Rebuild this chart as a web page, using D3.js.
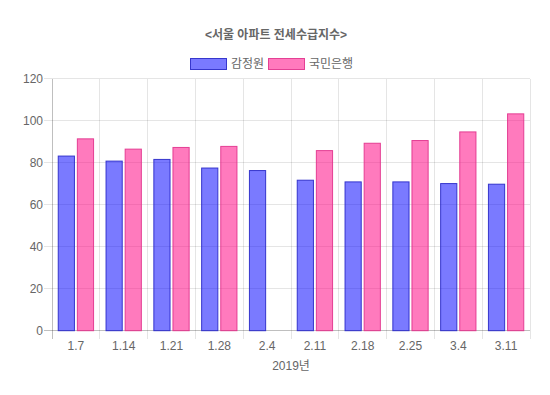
<!DOCTYPE html>
<html><head><meta charset="utf-8">
<script src="https://cdn.jsdelivr.net/npm/d3@7"></script>
<style>body{margin:0;background:#fff}svg{display:block}</style>
</head><body>
<script>
const categories = ["1.7","1.14","1.21","1.28","2.4","2.11","2.18","2.25","3.4","3.11"];
const seriesNames = ["감정원","국민은행"];
const kab = [83.4, 81.0, 81.8, 77.7, 76.5, 71.9, 71.1, 71.1, 70.3, 70.0];
const kb  = [91.6, 86.7, 87.5, 88.0, null, 86.0, 89.5, 90.8, 94.9, 103.5];
const yTicks = [0,20,40,60,80,100,120];
const titleText = "<서울 아파트 전세수급지수>";
const xTitle = "2019년";

const W=550,H=395;
const fills=["rgba(0,0,255,0.52)","rgba(255,0,128,0.52)"];
const strokes=["rgba(40,40,200,0.9)","rgba(225,50,140,0.9)"];
const font='"Liberation Sans", Arial, "Noto Sans CJK KR", sans-serif';
const textColor="#666";

const svg=d3.select("body").append("svg").attr("width",W).attr("height",H);
const L=52,R=530,T=78.7,B=330.7;
const x=d3.scaleBand().domain(categories).range([L,R]).paddingInner(0).paddingOuter(0);
const y=d3.scaleLinear().domain([0,120]).range([B,T]);
const x1=d3.scaleBand().domain([0,1]).range([0,x.bandwidth()*0.8]);

// grid
const g=svg.append("g");
yTicks.forEach(t=>{
  g.append("line").attr("x1",L-8).attr("x2",R).attr("y1",y(t)).attr("y2",y(t))
   .attr("stroke",t===0?"rgba(0,0,0,0.25)":"rgba(0,0,0,0.1)").attr("stroke-width",1).attr("shape-rendering","crispEdges");
});
const xLines=categories.map(c=>x(c)).concat([R]);
xLines.forEach((xx,i)=>{
  g.append("line").attr("x1",xx).attr("x2",xx).attr("y1",T).attr("y2",B+8)
   .attr("stroke",i===0?"rgba(0,0,0,0.25)":"rgba(0,0,0,0.1)").attr("shape-rendering","crispEdges");
});

// y labels via axis
const yAxis=svg.append("g").attr("transform",`translate(${L-9},0)`)
  .call(d3.axisLeft(y).tickValues(yTicks).tickSize(0).tickPadding(0));
yAxis.select(".domain").remove();
yAxis.selectAll("text").attr("fill",textColor).style("font-family",font).style("font-size","12px");

const xAxis=svg.append("g").attr("transform",`translate(0,${B+9})`)
  .call(d3.axisBottom(x).tickSize(0).tickPadding(0));
xAxis.select(".domain").remove();
xAxis.selectAll("text").attr("fill",textColor).style("font-family",font).style("font-size","12px").attr("dy","0.71em").attr("y",2);

// bars
const data=[kab,kb];
data.forEach((vals,si)=>{
  svg.append("g").selectAll("rect").data(categories.map((c,i)=>({c,v:vals[i]})).filter(d=>d.v!=null))
   .join("rect")
   .attr("x",d=>x(d.c)+x.bandwidth()*0.1+x1(si)+x1.bandwidth()*0.05+0.5)
   .attr("width",x1.bandwidth()*0.9-1)
   .attr("y",d=>y(d.v)+0.5)
   .attr("height",d=>B-y(d.v)-0.5)
   .attr("fill",fills[si]).attr("stroke",strokes[si]).attr("stroke-width",1);
});

// title
svg.append("text").attr("x",276).attr("y",39).attr("text-anchor","middle")
  .attr("fill",textColor).style("font-family",font).style("font-size","12px").style("font-weight","bold").text(titleText);

// x title
svg.append("text").attr("x",(L+R)/2).attr("y",370).attr("text-anchor","middle")
  .attr("fill",textColor).style("font-family",font).style("font-size","12px").text(xTitle);

// legend
const legX=[190,268];
seriesNames.forEach((n,i)=>{
  svg.append("rect").attr("x",legX[i]+0.5).attr("y",58.5).attr("width",36).attr("height",11)
    .attr("fill",fills[i]).attr("stroke",strokes[i]);
  svg.append("text").attr("x",legX[i]+41).attr("y",68).attr("fill",textColor)
    .style("font-family",font).style("font-size","12px").text(n);
});
</script>
</body></html>
